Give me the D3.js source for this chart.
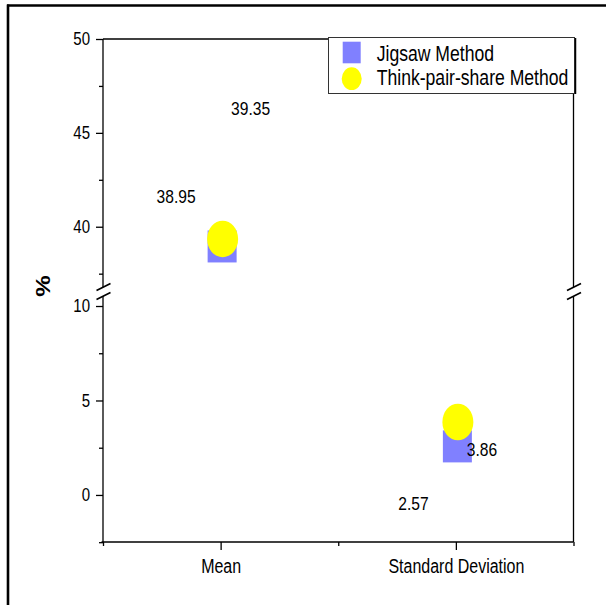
<!DOCTYPE html>
<html>
<head>
<meta charset="utf-8">
<script src="https://cdn.jsdelivr.net/npm/d3@7/dist/d3.min.js"></script>
<style>
  html, body { margin: 0; padding: 0; background: #fff; }
  svg { display: block; }
  text { font-family: "Liberation Sans", Arial, sans-serif; fill: #000; }
</style>
</head>
<body>
<svg id="chart" width="606" height="605"></svg>
<script>
// ---- data ----
const categories = ["Mean", "Standard Deviation"];
const categoryPos = [1, 2];
const seriesNames = ["Jigsaw Method", "Think-pair-share Method"];
const jigsawValues = [38.95, 2.57];
const thinkPairValues = [39.35, 3.86];
const upperMajorTicks = [40, 45, 50];
const upperMinorTicks = [37.5, 42.5, 47.5];
const lowerMajorTicks = [0, 5, 10];
const lowerMinorTicks = [-2.5, 2.5, 7.5];
const xMinorTicks = [0.5, 1.5, 2.5];

// ---- layout ----
const pLeft = 103, pRight = 573.5, pTop = 39, pBottom = 542;
const upperBottom = 287, lowerTop = 296;
const SY = 1.22; // vertical text stretch of the reference

const svg = d3.select("#chart");

// outer frame (left + top)
svg.append("line").attr("x1", 8).attr("x2", 8).attr("y1", 4.5).attr("y2", 605)
  .attr("stroke", "#000").attr("stroke-width", 2.6);
svg.append("line").attr("x1", 7).attr("x2", 606).attr("y1", 5.5).attr("y2", 5.5)
  .attr("stroke", "#000").attr("stroke-width", 2.6);

const x = d3.scaleLinear().domain([0.5, 2.5]).range([pLeft, pRight]);
const yUpper = d3.scaleLinear().domain([36.79, 50]).range([upperBottom, pTop]);
const yLower = d3.scaleLinear().domain([-2.49, 10.53]).range([pBottom, lowerTop]);
const yOf = (v) => v > 20 ? yUpper(v) : yLower(v);

function stretchedText(g, tx, ty, str, size, anchor, weight) {
  return g.append("text")
    .attr("transform", `translate(${tx},${ty}) scale(1,${SY})`)
    .attr("text-anchor", anchor || "start")
    .attr("font-size", size)
    .attr("font-weight", weight || "normal")
    .text(str);
}

const axisColor = "#000";
const sw = 1.3;

// axis lines
const frame = svg.append("g").attr("stroke", axisColor).attr("stroke-width", sw).attr("fill", "none");
frame.append("line").attr("x1", pLeft).attr("x2", pRight).attr("y1", pTop).attr("y2", pTop);
frame.append("line").attr("x1", pLeft - 1.5).attr("x2", pRight).attr("y1", pBottom).attr("y2", pBottom);
[pLeft, pRight].forEach(xx => {
  frame.append("line").attr("x1", xx).attr("x2", xx).attr("y1", pTop).attr("y2", upperBottom);
  frame.append("line").attr("x1", xx).attr("x2", xx).attr("y1", lowerTop).attr("y2", pBottom);
  [upperBottom, lowerTop].forEach(yy => {
    frame.append("line").attr("x1", xx - 6.5).attr("x2", xx + 7.5)
      .attr("y1", yy + 3.5).attr("y2", yy - 3.5).attr("stroke-width", 1.6);
  });
});

// y axis ticks via d3 axes
function yAxis(scale, major, minor) {
  const gMaj = svg.append("g").attr("transform", `translate(${pLeft},0)`)
    .call(d3.axisLeft(scale).tickValues(major).tickSize(7).tickSizeOuter(0).tickFormat(d3.format("d")));
  gMaj.select(".domain").remove();
  gMaj.selectAll(".tick line").attr("stroke", axisColor).attr("stroke-width", sw);
  gMaj.selectAll(".tick text").remove();
  gMaj.selectAll(".tick").each(function(d) {
    stretchedText(d3.select(this), -13, 5.8, d3.format("d")(d), 15, "end");
  });
  const gMin = svg.append("g").attr("transform", `translate(${pLeft},0)`)
    .call(d3.axisLeft(scale).tickValues(minor).tickSize(4).tickSizeOuter(0).tickFormat(""));
  gMin.select(".domain").remove();
  gMin.selectAll(".tick line").attr("stroke", axisColor).attr("stroke-width", sw);
}
yAxis(yUpper, upperMajorTicks, upperMinorTicks);
yAxis(yLower, lowerMajorTicks, lowerMinorTicks);

// x axis
const gx = svg.append("g").attr("transform", `translate(0,${pBottom})`)
  .call(d3.axisBottom(x).tickValues(categoryPos).tickSize(8).tickSizeOuter(0).tickFormat((d, i) => categories[i]));
gx.select(".domain").remove();
gx.selectAll(".tick line").attr("stroke", axisColor).attr("stroke-width", sw);
gx.selectAll(".tick text").remove();
gx.selectAll(".tick").each(function(d, i) {
  stretchedText(d3.select(this), 0, 30.5, categories[i], 16, "middle");
});
const gxm = svg.append("g").attr("transform", `translate(0,${pBottom})`)
  .call(d3.axisBottom(x).tickValues(xMinorTicks).tickSize(4).tickSizeOuter(0).tickFormat(""));
gxm.select(".domain").remove();
gxm.selectAll(".tick line").attr("stroke", axisColor).attr("stroke-width", sw);

// y title
svg.append("text")
  .attr("transform", `translate(50,286) scale(1,1.15) rotate(-90)`)
  .attr("text-anchor", "middle")
  .attr("font-size", 21).attr("font-weight", "bold")
  .text("%");

// marks
const sqW = 29, sqH = 32, rx = 15.5, ry = 18.3;
svg.append("g").selectAll("rect").data(jigsawValues).join("rect")
  .attr("x", (d, i) => x(categoryPos[i]) + 1.5 - sqW / 2)
  .attr("y", d => yOf(d) - sqH / 2)
  .attr("width", sqW).attr("height", sqH)
  .attr("fill", "#8080ff");
svg.append("g").selectAll("ellipse").data(thinkPairValues).join("ellipse")
  .attr("cx", (d, i) => x(categoryPos[i]) + 2)
  .attr("cy", d => yOf(d))
  .attr("rx", rx).attr("ry", ry)
  .attr("fill", "#ffff00");

// value labels (offsets as in the reference)
const jigsawLabelOffsets = [[-46, -43], [-44, 64]];
const thinkLabelOffsets = [[28, -124], [24, 34]];
const lab = svg.append("g");
jigsawValues.forEach((v, i) => {
  stretchedText(lab, x(categoryPos[i]) + 1.5 + jigsawLabelOffsets[i][0], yOf(v) + jigsawLabelOffsets[i][1],
    d3.format(".2f")(v), 15.6, "middle");
});
thinkPairValues.forEach((v, i) => {
  stretchedText(lab, x(categoryPos[i]) + 2 + thinkLabelOffsets[i][0], yOf(v) + thinkLabelOffsets[i][1],
    d3.format(".2f")(v), 15.6, "middle");
});

// legend
const lg = svg.append("g");
lg.append("rect").attr("x", 328.5).attr("y", 37.5).attr("width", 246).attr("height", 56)
  .attr("fill", "#fff").attr("stroke", "#333").attr("stroke-width", 1);
lg.append("line").attr("x1", 575.5).attr("x2", 575.5).attr("y1", 38).attr("y2", 94)
  .attr("stroke", "#000").attr("stroke-width", 1.5);
lg.append("rect").attr("x", 342.7).attr("y", 41.7).attr("width", 18).attr("height", 21.6).attr("fill", "#8080ff");
lg.append("ellipse").attr("cx", 351.7).attr("cy", 78.7).attr("rx", 10).attr("ry", 11.4).attr("fill", "#ffff00");
stretchedText(lg, 376.7, 60.5, seriesNames[0], 17.6, "start");
stretchedText(lg, 376.7, 85, seriesNames[1], 17.6, "start");
</script>
</body>
</html>
